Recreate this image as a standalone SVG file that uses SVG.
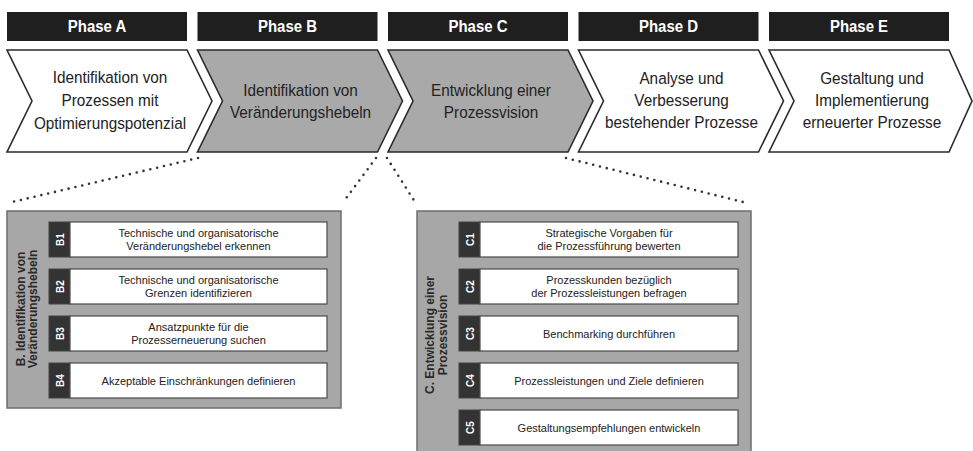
<svg xmlns="http://www.w3.org/2000/svg" width="973" height="451" viewBox="0 0 973 451">
<defs>
<style>
.hdr{fill:#1f1f1f}
.hdrt{font-family:"Liberation Sans",Arial,sans-serif;font-weight:bold;font-size:17px;fill:#ffffff;text-anchor:middle}
.chw{fill:#ffffff;stroke:#2a2a2a;stroke-width:1.6}
.chg{fill:#a9a9a9;stroke:#2a2a2a;stroke-width:1.6}
.cht{font-family:"Liberation Sans",Arial,sans-serif;font-size:17px;fill:#222;text-anchor:middle}
.panel{fill:#a7a7a7;stroke:#6e6e6e;stroke-width:1.5}
.tab{fill:#333333;stroke:#444;stroke-width:1}
.box{fill:#ffffff;stroke:#4a4a4a;stroke-width:1.2}
.tabt{font-family:"Liberation Sans",Arial,sans-serif;font-weight:bold;font-size:10px;fill:#ffffff;text-anchor:middle}
.it{font-family:"Liberation Sans",Arial,sans-serif;font-size:11px;fill:#222;text-anchor:middle}
.pl{font-family:"Liberation Sans",Arial,sans-serif;font-weight:bold;font-size:12px;fill:#2a2a2a;text-anchor:middle}
.dot{fill:none;stroke:#333;stroke-width:2.6;stroke-linecap:round;stroke-dasharray:0 7}
</style>
</defs>

<g id="phaseA">
<rect class="hdr" x="7" y="12" width="180" height="29"/>
<g transform="translate(97,0) scale(0.88,1)"><text class="hdrt" x="0" y="32.5">Phase A</text></g>
<path class="chw" d="M7,50 L187,50 L212,101 L187,152 L7,152 L32,101 Z"/>
<g transform="translate(110,0) scale(0.9,1)">
<text class="cht" x="0" y="83">Identifikation von</text>
<text class="cht" x="0" y="106">Prozessen mit</text>
<text class="cht" x="0" y="129">Optimierungspotenzial</text>
</g>
</g>

<g id="phaseB">
<rect class="hdr" x="197.5" y="12" width="180" height="29"/>
<g transform="translate(287.5,0) scale(0.88,1)"><text class="hdrt" x="0" y="32.5">Phase B</text></g>
<path class="chg" d="M197.5,50 L377.5,50 L402.5,101 L377.5,152 L197.5,152 L222.5,101 Z"/>
<g transform="translate(300.5,0) scale(0.9,1)">
<text class="cht" x="0" y="96">Identifikation von</text>
<text class="cht" x="0" y="118">Veränderungshebeln</text>
</g>
</g>

<g id="phaseC">
<rect class="hdr" x="388" y="12" width="180" height="29"/>
<g transform="translate(478,0) scale(0.88,1)"><text class="hdrt" x="0" y="32.5">Phase C</text></g>
<path class="chg" d="M388,50 L568,50 L593,101 L568,152 L388,152 L413,101 Z"/>
<g transform="translate(491,0) scale(0.9,1)">
<text class="cht" x="0" y="96">Entwicklung einer</text>
<text class="cht" x="0" y="118">Prozessvision</text>
</g>
</g>

<g id="phaseD">
<rect class="hdr" x="578.5" y="12" width="180" height="29"/>
<g transform="translate(668.5,0) scale(0.88,1)"><text class="hdrt" x="0" y="32.5">Phase D</text></g>
<path class="chw" d="M578.5,50 L758.5,50 L783.5,101 L758.5,152 L578.5,152 L603.5,101 Z"/>
<g transform="translate(681.5,0) scale(0.9,1)">
<text class="cht" x="0" y="84">Analyse und</text>
<text class="cht" x="0" y="106">Verbesserung</text>
<text class="cht" x="0" y="128">bestehender Prozesse</text>
</g>
</g>

<g id="phaseE">
<rect class="hdr" x="769" y="12" width="180" height="29"/>
<g transform="translate(859,0) scale(0.88,1)"><text class="hdrt" x="0" y="32.5">Phase E</text></g>
<path class="chw" d="M769,50 L949,50 L972,101 L949,152 L769,152 L794,101 Z"/>
<g transform="translate(872,0) scale(0.9,1)">
<text class="cht" x="0" y="84">Gestaltung und</text>
<text class="cht" x="0" y="106">Implementierung</text>
<text class="cht" x="0" y="128">erneuerter Prozesse</text>
</g>
</g>

<g id="connectors">
<line class="dot" x1="198" y1="158" x2="8" y2="203"/>
<line class="dot" x1="376" y1="158" x2="344" y2="201"/>
<line class="dot" x1="387" y1="158" x2="415" y2="202"/>
<line class="dot" x1="566" y1="158" x2="747" y2="203"/>
</g>

<g id="panelB">
<rect class="panel" x="7" y="211" width="334" height="197"/>
<text class="pl" transform="translate(25,309) rotate(-90)">B. Identifikation von</text>
<text class="pl" transform="translate(37,309) rotate(-90)">Veränderungshebeln</text>
</g>

<g id="B1">
<rect class="tab" x="49" y="222" width="21" height="35"/>
<rect class="box" x="70" y="222" width="257" height="35"/>
<text class="tabt" transform="translate(63.5,239.5) rotate(-90)">B1</text>
<text class="it" x="198.5" y="237">Technische und organisatorische</text>
<text class="it" x="198.5" y="250">Veränderungshebel erkennen</text>
</g>
<g id="B2">
<rect class="tab" x="49" y="269" width="21" height="35"/>
<rect class="box" x="70" y="269" width="257" height="35"/>
<text class="tabt" transform="translate(63.5,286.5) rotate(-90)">B2</text>
<text class="it" x="198.5" y="284">Technische und organisatorische</text>
<text class="it" x="198.5" y="297">Grenzen identifizieren</text>
</g>
<g id="B3">
<rect class="tab" x="49" y="316" width="21" height="35"/>
<rect class="box" x="70" y="316" width="257" height="35"/>
<text class="tabt" transform="translate(63.5,333.5) rotate(-90)">B3</text>
<text class="it" x="198.5" y="331">Ansatzpunkte für die</text>
<text class="it" x="198.5" y="344">Prozesserneuerung suchen</text>
</g>
<g id="B4">
<rect class="tab" x="49" y="363" width="21" height="35"/>
<rect class="box" x="70" y="363" width="257" height="35"/>
<text class="tabt" transform="translate(63.5,380.5) rotate(-90)">B4</text>
<text class="it" x="198.5" y="384.5">Akzeptable Einschränkungen definieren</text>
</g>

<g id="panelC">
<rect class="panel" x="417" y="211" width="334" height="250"/>
<text class="pl" transform="translate(434,335) rotate(-90)">C. Entwicklung einer</text>
<text class="pl" transform="translate(447,335) rotate(-90)">Prozessvision</text>
</g>

<g id="C1">
<rect class="tab" x="459" y="222" width="21" height="35"/>
<rect class="box" x="480" y="222" width="258" height="35"/>
<text class="tabt" transform="translate(473.5,239.5) rotate(-90)">C1</text>
<text class="it" x="609" y="237">Strategische Vorgaben für</text>
<text class="it" x="609" y="250">die Prozessführung bewerten</text>
</g>
<g id="C2">
<rect class="tab" x="459" y="269" width="21" height="35"/>
<rect class="box" x="480" y="269" width="258" height="35"/>
<text class="tabt" transform="translate(473.5,286.5) rotate(-90)">C2</text>
<text class="it" x="609" y="284">Prozesskunden bezüglich</text>
<text class="it" x="609" y="297">der Prozessleistungen befragen</text>
</g>
<g id="C3">
<rect class="tab" x="459" y="316" width="21" height="35"/>
<rect class="box" x="480" y="316" width="258" height="35"/>
<text class="tabt" transform="translate(473.5,333.5) rotate(-90)">C3</text>
<text class="it" x="609" y="337.5">Benchmarking durchführen</text>
</g>
<g id="C4">
<rect class="tab" x="459" y="363" width="21" height="35"/>
<rect class="box" x="480" y="363" width="258" height="35"/>
<text class="tabt" transform="translate(473.5,380.5) rotate(-90)">C4</text>
<text class="it" x="609" y="384.5">Prozessleistungen und Ziele definieren</text>
</g>
<g id="C5">
<rect class="tab" x="459" y="410" width="21" height="35"/>
<rect class="box" x="480" y="410" width="258" height="35"/>
<text class="tabt" transform="translate(473.5,427.5) rotate(-90)">C5</text>
<text class="it" x="609" y="431.5">Gestaltungsempfehlungen entwickeln</text>
</g>
</svg>
